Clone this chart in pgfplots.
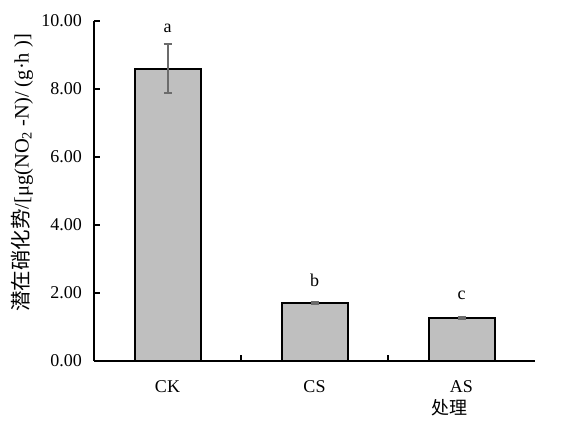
\documentclass[border=0pt]{standalone}
\usepackage{fontspec}
\setmainfont{Liberation Serif}
\newfontfamily\cjk{Noto Sans CJK SC}
\usepackage{pgfplots}
\pgfplotsset{compat=1.18}
\begin{document}
\fontsize{18}{21}\selectfont
\begin{tikzpicture}
\useasboundingbox (0,0) rectangle (564pt,438pt);
\begin{axis}[
  at={(94pt,77pt)}, anchor=south west,
  scale only axis, width=441pt, height=340pt,
  xmin=-0.5, xmax=2.5, ymin=0, ymax=10,
  axis x line*=bottom, axis y line*=left,
  axis line style={-, line width=2pt, black},
  xtick={0.5,1.5}, xticklabels={},
  extra x ticks={0,1,2}, extra x tick labels={CK,CS,AS},
  extra x tick style={major tick length=0pt, xticklabel style={yshift=-13pt}},
  ytick={0,2,4,6,8,10},
  tick align=inside, major tick length=6pt,
  tick style={black, line width=1.6pt},
  yticklabel style={/pgf/number format/fixed, /pgf/number format/fixed zerofill, /pgf/number format/precision=2, /pgf/number format/assume math mode=true},
  yticklabel style={font=\fontsize{18}{21}\selectfont, xshift=-6pt},
  xticklabel style={font=\fontsize{18}{21}\selectfont},
  ylabel={{\cjk 潜在硝化势}/[μg(NO\textsubscript{2} -N)/ (g·h )]},
  ylabel style={at={(axis description cs:-0.163,0.553)}, anchor=center, font=\fontsize{20.5}{24}\selectfont},
  xlabel={{\cjk 处理}},
  xlabel style={at={(axis description cs:0.807,0)}, anchor=center, yshift=-47pt, font=\fontsize{18}{21}\selectfont},
  clip=false,
]
\addplot[ybar, bar width=66pt, fill=black!25, draw=black, line width=2pt,
  error bars/.cd, y dir=both, y explicit,
  error bar style={color=black!58, line width=2pt},
  error mark options={rotate=90, mark size=4pt, line width=2pt, color=black!58}]
  coordinates {(0,8.60) +- (0,0.71) (1,1.70) +- (0,0.03) (2,1.27) +- (0,0.03)};
\addplot[draw=none, mark=none, nodes near coords, point meta=explicit symbolic,
  every node near coord/.append style={anchor=center, font=\fontsize{18}{21}\selectfont}]
  coordinates {(0,9.79)[a] (1,2.38)[b] (2,1.94)[c]};
\end{axis}
\end{tikzpicture}
\end{document}
